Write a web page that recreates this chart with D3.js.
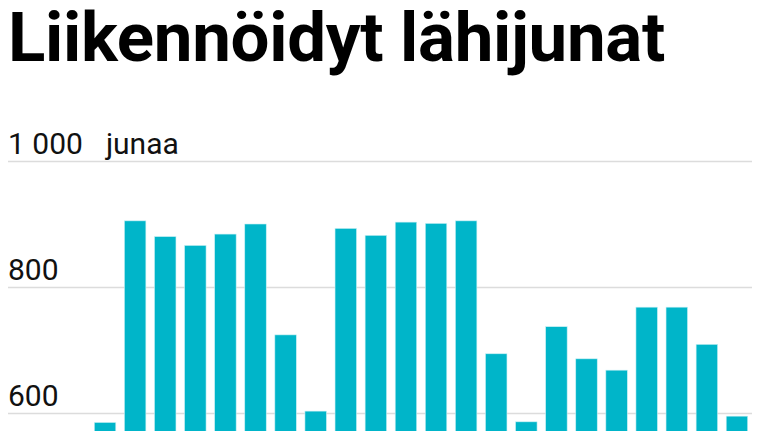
<!DOCTYPE html>
<html>
<head>
<meta charset="utf-8">
<script src="https://cdn.jsdelivr.net/npm/d3@7"></script>
<style>
  html, body { margin: 0; padding: 0; background: #fff; }
  svg { display: block; overflow: hidden; }
  .title { font-family: Roboto, sans-serif; font-weight: 700; fill: #000; }
  .tick text { font-family: Roboto, sans-serif; fill: #111; }
  .grid line { stroke: #dcdcdc; stroke-width: 1.5px; }
  rect.bar { fill: #00b5c9; stroke: #c8f0f4; stroke-width: 0.6px; }
</style>
</head>
<body>
<svg id="chart" width="767" height="431"></svg>
<script>

// daily commuter trains (the visible part of the series)
var days = ['1', '2', '3', '4', '5', '6', '7', '8', '9', '10', '11',
            '12', '13', '14', '15', '16', '17', '18', '19', '20', '21', '22'];
var trains = [585, 905, 880, 866, 884, 900, 724, 603, 893, 882, 903,
              901, 905, 694, 586, 737, 686, 668, 768, 768, 709, 595];
var yTicks = [600, 800, 1000];
var unitLabel = 'junaa';
var titleText = 'Liikennöidyt lähijunat';

var svg = d3.select('#chart');
var W = 767, H = 431;
var m = {left: 8, right: 15, top: 161, bottom: 18};

var fi = d3.formatLocale({decimal: ',', thousands: '\u00a0', grouping: [3], currency: ['', ' €']});
var fmt = fi.format(',d');

var x = d3.scaleBand()
  .domain(days)
  .range([90, W - m.right])
  .paddingInner(0.286)
  .paddingOuter(0.143);

var y = d3.scaleLinear()
  .domain([600, 1000])
  .range([H - m.bottom, m.top]);

// title
svg.append('text')
  .attr('class', 'title')
  .attr('x', 8)
  .attr('y', 61)
  .style('font-size', '69px')
  .style('letter-spacing', '-0.3px')
  .text(titleText);

// grid + labels
var axis = svg.append('g')
  .attr('class', 'grid')
  .call(d3.axisLeft(y)
    .tickValues(yTicks)
    .tickSize(-(W - m.right - m.left))
    .tickFormat(fmt))
  .attr('transform', 'translate(' + (W - m.right) + ',0)');

axis.select('.domain').remove();
axis.selectAll('.tick line')
  .attr('x1', 0)
  .attr('x2', -(W - m.right - m.left));
axis.selectAll('.tick text')
  .attr('x', -(W - m.right - m.left))
  .attr('dy', 0)
  .attr('y', -8)
  .attr('text-anchor', 'start')
  .style('font-size', '30px');

// unit after the top tick label
var topTick = axis.selectAll('.tick').filter(function (d) { return d === d3.max(yTicks); });
var tb = topTick.select('text').node().getBBox();
topTick.append('text')
  .attr('x', tb.x + tb.width + 23)
  .attr('y', -8)
  .attr('text-anchor', 'start')
  .style('font-size', '30px')
  .text(unitLabel);

// bars
svg.append('g')
  .selectAll('rect')
  .data(trains)
  .join('rect')
  .attr('class', 'bar')
  .attr('x', function (d, i) { return x(days[i]); })
  .attr('width', x.bandwidth())
  .attr('y', function (d) { return y(d); })
  .attr('height', function (d) { return y(0) - y(d); });

</script>
</body>
</html>
